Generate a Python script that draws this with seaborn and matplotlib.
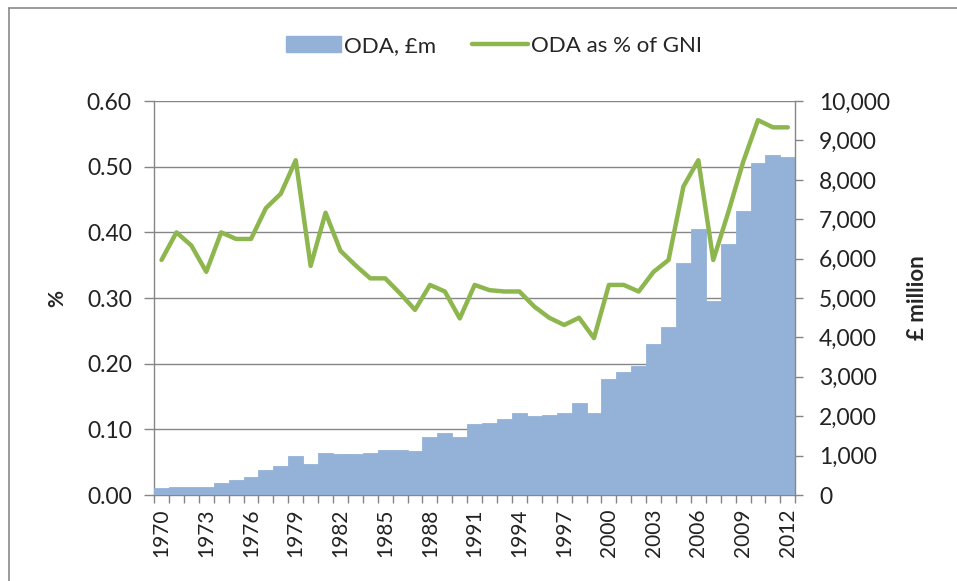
import numpy as np
import pandas as pd
import matplotlib
matplotlib.use("Agg")
import matplotlib.pyplot as plt
from matplotlib.patches import Patch
from matplotlib.lines import Line2D
from matplotlib.ticker import FuncFormatter, MultipleLocator
import seaborn as sns

years = list(range(1970, 2013))
oda_gbp_m = [180, 210, 210, 210, 296, 380, 465, 635, 736, 990,
             787, 1075, 1032, 1032, 1075, 1142, 1142, 1117, 1480, 1565,
             1480, 1802, 1836, 1920, 2090, 2005, 2030, 2073, 2327, 2090,
             2936, 3130, 3274, 3832, 4272, 5897, 6751, 4924, 6362, 7208,
             8435, 8629, 8587]
oda_pct_gni = [0.358, 0.40, 0.38, 0.34, 0.40, 0.39, 0.39, 0.437, 0.459, 0.51,
               0.349, 0.43, 0.372, 0.35, 0.33, 0.33, 0.307, 0.282, 0.32, 0.31,
               0.269, 0.32, 0.312, 0.31, 0.31, 0.287, 0.27, 0.259, 0.27, 0.239,
               0.32, 0.32, 0.31, 0.34, 0.358, 0.47, 0.51, 0.358, 0.43, 0.507,
               0.571, 0.56, 0.56]
label_years = list(range(1970, 2013, 3))

df = pd.DataFrame({"year": years, "oda": oda_gbp_m, "pct": oda_pct_gni})

sns.set_style("white")
plt.rcParams["font.family"] = ["Lato", "DejaVu Sans"]

BAR = "#94b2d7"
LINE = "#8db64e"
AX = "#868686"

fig = plt.figure(figsize=(9.57, 5.81), dpi=100)
ax = fig.add_axes([0.161, 0.148, 0.670, 0.678])
ax.set_zorder(0)
axb = ax.twinx()
axl = ax.twinx()
for a in (axb, axl):
    a.patch.set_visible(False)

# bars on right axis
sns.barplot(data=df, x="year", y="oda", native_scale=True, width=1.0,
            color=BAR, saturation=1, edgecolor=BAR, linewidth=0.6,
            errorbar=None, ax=axb)
# line on left scale
sns.lineplot(data=df, x="year", y="pct", color=LINE, linewidth=3.2, ax=axl)

for a in (ax, axb, axl):
    a.set_xlim(1969.5, 2012.5)
ax.set_ylim(0, 0.6)
axl.set_ylim(0, 0.6)
axb.set_ylim(0, 10000)

# left axis
ax.yaxis.set_major_locator(MultipleLocator(0.1))
ax.yaxis.set_major_formatter(FuncFormatter(lambda v, p: f"{v:.2f}"))
ax.grid(axis="y", color=AX, linewidth=1.0)
ax.grid(axis="x", visible=False)
ax.tick_params(axis="y", which="major", length=7, width=1, color=AX,
               direction="out", labelsize=16.5, pad=9, left=True,
               labelcolor="#222222")
ax.set_ylabel("%", fontsize=15, fontweight="bold", labelpad=14)

# x axis
ax.set_xticks(label_years)
ax.set_xticklabels([str(y) for y in label_years], rotation=90, fontsize=15,
                   color="#222222")
ax.set_xticks(np.arange(1969.5, 2013.0, 1.0), minor=True)
ax.tick_params(axis="x", which="major", length=0, pad=10)
ax.tick_params(axis="x", which="minor", length=6, width=1, color=AX,
               direction="out", bottom=True)

# right axis
axb.yaxis.set_major_locator(MultipleLocator(1000))
axb.yaxis.set_major_formatter(FuncFormatter(lambda v, p: f"{int(v):,}"))
axb.tick_params(axis="y", length=6, width=1, color=AX, direction="out",
                labelsize=16.5, pad=11, right=True, labelcolor="#222222")
axb.set_ylabel("£ million", fontsize=16, fontweight="bold", labelpad=12)
axb.set_xlabel("")
axb.tick_params(axis="x", bottom=False, labelbottom=False)

axl.set_axis_off()
ax.set_xlabel("")

for a in (ax, axb):
    a.spines["top"].set_visible(False)
    for s in ("left", "right", "bottom"):
        a.spines[s].set_color(AX)
        a.spines[s].set_linewidth(1.0)
ax.spines["right"].set_visible(False)
axb.spines["left"].set_visible(False)
axb.spines["bottom"].set_visible(False)

handles = [Patch(facecolor=BAR, edgecolor=BAR),
           Line2D([0], [0], color=LINE, linewidth=3.2)]
fig.legend(handles, ["ODA, £m", "ODA as % of GNI"], loc="center",
           bbox_to_anchor=(0.516, 0.921), ncol=2, frameon=False, fontsize=16,
           handlelength=2.5, handletextpad=0.15, columnspacing=1.6)

# outer frame (top and left edges visible)
fig.add_artist(Line2D([8.5 / 957, 1.0], [1 - 7.5 / 581, 1 - 7.5 / 581],
                      transform=fig.transFigure, color="#8a8a8a", linewidth=1.2))
fig.add_artist(Line2D([8.5 / 957, 8.5 / 957], [0.0, 1 - 7.5 / 581],
                      transform=fig.transFigure, color="#8a8a8a", linewidth=1.2))

fig.savefig("out.png", dpi=100)
